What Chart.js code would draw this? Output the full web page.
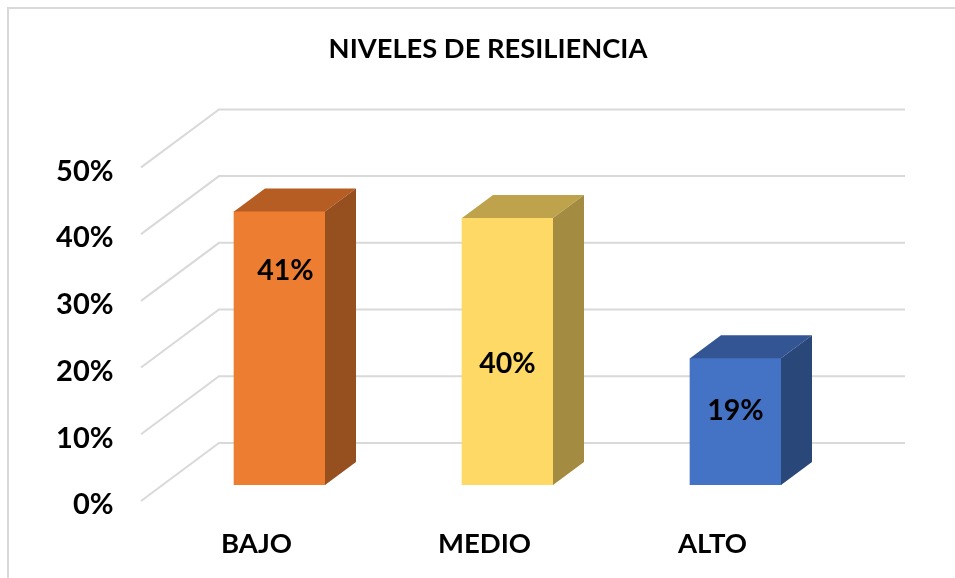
<!DOCTYPE html>
<html>
<head>
<meta charset="utf-8">
<title>Niveles de resiliencia</title>
<script src="https://cdn.jsdelivr.net/npm/chart.js@4"></script>
<style>
  html, body { margin: 0; padding: 0; background: #fff; }
  canvas { display: block; }
</style>
</head>
<body>
<canvas id="grafico" width="955" height="578"></canvas>
<script>
// ================= DATOS =================
const titulo = "NIVELES DE RESILIENCIA";
const niveles = ["BAJO", "MEDIO", "ALTO"];
const valores = [0.41, 0.40, 0.19];
const etiquetas = ["41%", "40%", "19%"];
const marcasY = [0, 0.1, 0.2, 0.3, 0.4, 0.5];

const coloresFrente = ["#ED7D31", "#FFD966", "#4472C4"];
const coloresTapa = ["#B55D22", "#BFA34C", "#335593"];
const coloresLado = ["#964F1F", "#A38B41", "#2A4779"];

const FUENTE = "Lato, Carlito, sans-serif";
const GRIS = "#D9D9D9";

// ================= PROFUNDIDAD 3D =================
const prof = { dx: 31, dy: -23 };      // barra
const frente = { dx: -24.5, dy: 16 };  // borde delantero del piso
const fondo = { dx: 53.5, dy: -42 };   // pared del fondo
const finFondo = 55.5;                 // la pared sobresale un poco a la derecha
// las etiquetas estan movidas a mano en el original
const ajusteEtiqueta = [{ x: 6, y: 59 }, { x: 0, y: 146 }, { x: 0, y: 53 }];

function poligono(c, puntos, color) {
  c.fillStyle = color;
  c.beginPath();
  puntos.forEach((p, i) => i ? c.lineTo(p[0], p[1]) : c.moveTo(p[0], p[1]));
  c.closePath();
  c.fill();
}

const pluginMarco = {
  id: "marco",
  beforeDraw(chart) {
    const c = chart.ctx;
    c.save();
    c.strokeStyle = GRIS;
    c.lineWidth = 2;
    c.beginPath();
    c.moveTo(8, 578);
    c.lineTo(8, 8);
    c.lineTo(955, 8);
    c.stroke();
    c.restore();
  }
};

const pluginRejilla = {
  id: "rejilla",
  beforeDatasetsDraw(chart) {
    const c = chart.ctx;
    const y = chart.scales.y;
    const { left, right } = chart.chartArea;
    c.save();
    c.strokeStyle = GRIS;
    c.lineWidth = 2;
    marcasY.forEach(v => {
      const py = y.getPixelForValue(v);
      c.beginPath();
      c.moveTo(left + frente.dx, py + frente.dy);
      c.lineTo(left + fondo.dx, py + fondo.dy);
      c.lineTo(right + finFondo, py + fondo.dy);
      c.stroke();
    });
    c.restore();
  }
};

const pluginCaras = {
  id: "caras",
  afterDatasetsDraw(chart) {
    const c = chart.ctx;
    c.save();
    chart.getDatasetMeta(0).data.forEach((bar, i) => {
      const izq = bar.x - bar.width / 2;
      const der = bar.x + bar.width / 2;
      poligono(c, [[izq, bar.y], [izq + prof.dx, bar.y + prof.dy], [der + prof.dx, bar.y + prof.dy], [der, bar.y]], coloresTapa[i]);
      poligono(c, [[der, bar.y], [der + prof.dx, bar.y + prof.dy], [der + prof.dx, bar.base + prof.dy], [der, bar.base]], coloresLado[i]);
      c.fillStyle = "#000";
      c.font = "bold 28.5px " + FUENTE;
      c.textAlign = "center";
      c.textBaseline = "middle";
      c.fillText(etiquetas[i], bar.x + ajusteEtiqueta[i].x, bar.y + ajusteEtiqueta[i].y);
    });
    c.restore();
  }
};

// ================= GRÁFICO =================
const ctx = document.getElementById("grafico").getContext("2d");

const grafico = new Chart(ctx, {
  type: "bar",
  data: {
    labels: niveles,
    datasets: [{
      data: valores,
      backgroundColor: coloresFrente,
      barThickness: 91,
      categoryPercentage: 1
    }]
  },
  options: {
    responsive: false,
    animation: false,
    // padding izquierdo para que el titulo quede centrado en x=488
    layout: { padding: { left: 21, right: 0, top: 0, bottom: 0 } },
    plugins: {
      legend: { display: false },
      tooltip: { enabled: false },
      title: {
        display: true,
        text: titulo,
        color: "#000",
        font: { family: FUENTE, size: 27.3, weight: "bold" },
        padding: { top: 33, bottom: 85.64 }
      }
    },
    scales: {
      x: {
        grid: { display: false, drawTicks: false },
        border: { display: false },
        afterFit(scale) { scale.height = 93; },
        ticks: {
          color: "#000",
          font: { family: FUENTE, size: 27.5, weight: "bold" },
          padding: 43,
          labelOffset: -23,
          maxRotation: 0
        }
      },
      y: {
        min: 0,
        max: 0.5,
        grid: { display: false, drawTicks: false },
        border: { display: false },
        afterFit(scale) { scale.width = 144.5; },
        afterBuildTicks(scale) { scale.ticks = marcasY.map(v => ({ value: v })); },
        ticks: {
          color: "#000",
          font: { family: FUENTE, size: 29, weight: "bold" },
          padding: 52,
          labelOffset: 20,
          callback: v => Math.round(v * 100) + "%"
        }
      },
      // eje vacio, solo reserva el margen derecho
      margen: {
        position: "right",
        min: 0,
        max: 0.5,
        grid: { display: false, drawTicks: false },
        border: { display: false },
        ticks: { display: false },
        afterFit(scale) { scale.width = 105.5; }
      }
    }
  },
  plugins: [pluginMarco, pluginRejilla, pluginCaras]
});
</script>
</body>
</html>
